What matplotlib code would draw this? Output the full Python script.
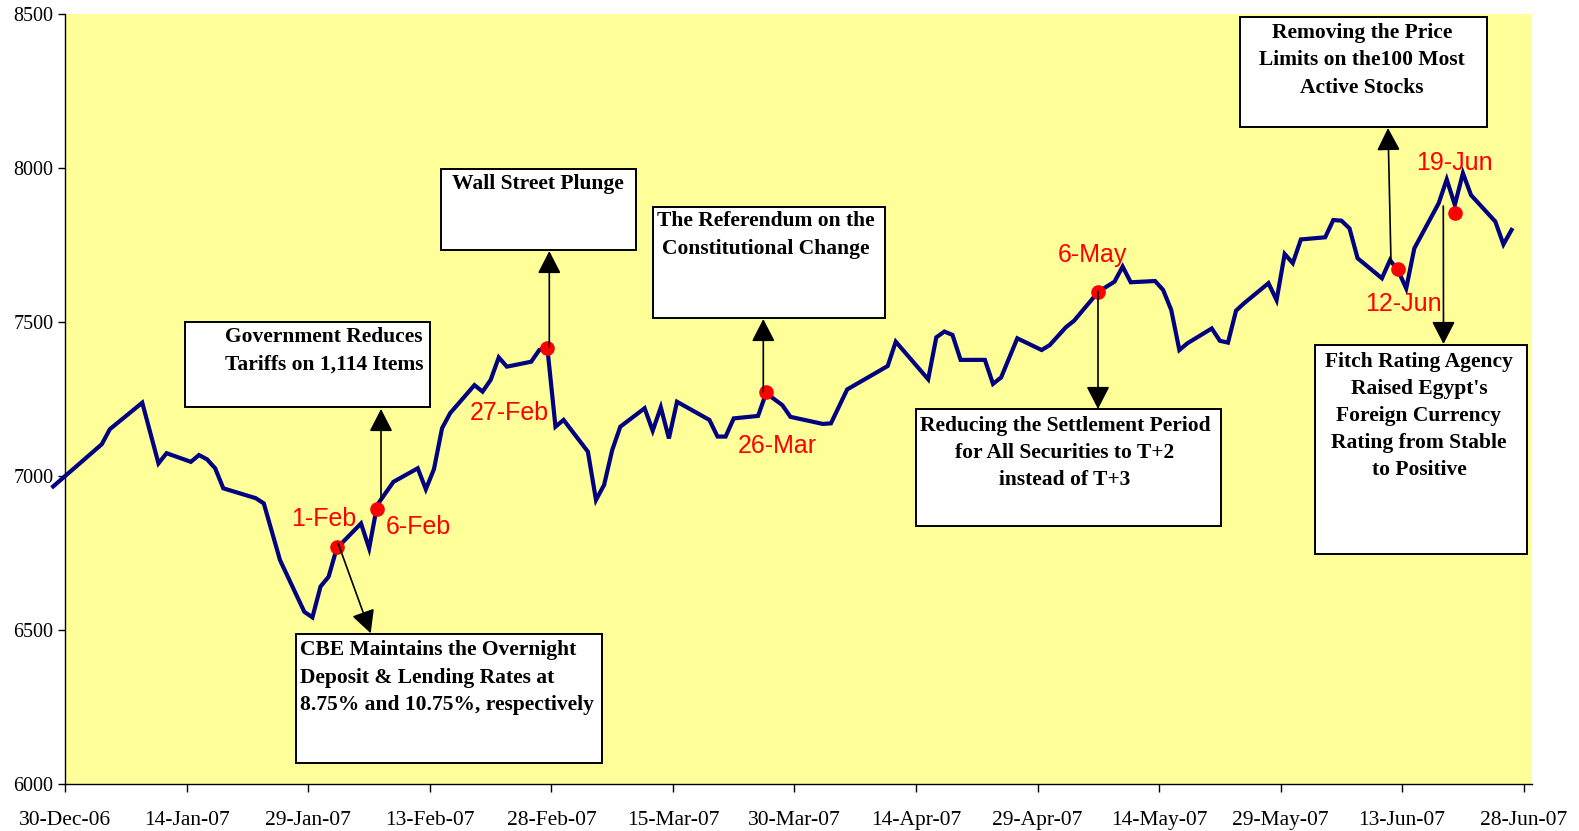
import matplotlib
matplotlib.use("Agg")
import matplotlib.pyplot as plt
import matplotlib.dates as mdates
from matplotlib.patches import Rectangle, FancyArrowPatch

# ---------------- data ----------------
dates = [
    "2006-12-28", "2007-01-03", "2007-01-04", "2007-01-08", "2007-01-10", "2007-01-11",
    "2007-01-14", "2007-01-15", "2007-01-16", "2007-01-17", "2007-01-18", "2007-01-22",
    "2007-01-23", "2007-01-25", "2007-01-28", "2007-01-29", "2007-01-30", "2007-01-31",
    "2007-02-01", "2007-02-04", "2007-02-05", "2007-02-06", "2007-02-08", "2007-02-11",
    "2007-02-12", "2007-02-13", "2007-02-14", "2007-02-15", "2007-02-18", "2007-02-19",
    "2007-02-20", "2007-02-21", "2007-02-22", "2007-02-25", "2007-02-26", "2007-02-27",
    "2007-02-28", "2007-03-01", "2007-03-04", "2007-03-05", "2007-03-06", "2007-03-07",
    "2007-03-08", "2007-03-11", "2007-03-12", "2007-03-13", "2007-03-14", "2007-03-15",
    "2007-03-19", "2007-03-20", "2007-03-21", "2007-03-22", "2007-03-25", "2007-03-26",
    "2007-03-28", "2007-03-29", "2007-04-02", "2007-04-03", "2007-04-05", "2007-04-10",
    "2007-04-11", "2007-04-15", "2007-04-16", "2007-04-17", "2007-04-18", "2007-04-19",
    "2007-04-22", "2007-04-23", "2007-04-24", "2007-04-26", "2007-04-29", "2007-04-30",
    "2007-05-02", "2007-05-03", "2007-05-06", "2007-05-08", "2007-05-09", "2007-05-10",
    "2007-05-13", "2007-05-14", "2007-05-15", "2007-05-16", "2007-05-17", "2007-05-20",
    "2007-05-21", "2007-05-22", "2007-05-23", "2007-05-24", "2007-05-27", "2007-05-28",
    "2007-05-29", "2007-05-30", "2007-05-31", "2007-06-03", "2007-06-04", "2007-06-05",
    "2007-06-06", "2007-06-07", "2007-06-10", "2007-06-11", "2007-06-12", "2007-06-13",
    "2007-06-14", "2007-06-17", "2007-06-18", "2007-06-19", "2007-06-20", "2007-06-21",
    "2007-06-24", "2007-06-25", "2007-06-26",
]
index_values = [
    6967, 7104, 7153, 7239, 7042, 7075,
    7047, 7069, 7055, 7026, 6961, 6929,
    6912, 6728, 6560, 6542, 6642, 6674,
    6766, 6847, 6766, 6907, 6982, 7026,
    6958, 7023, 7156, 7205, 7296, 7275,
    7313, 7386, 7356, 7372, 7410, 7416,
    7161, 7183, 7080, 6923, 6972, 7085,
    7161, 7221, 7148, 7224, 7123, 7242,
    7183, 7129, 7129, 7188, 7196, 7270,
    7231, 7193, 7170, 7172, 7282, 7358,
    7437, 7315, 7451, 7470, 7459, 7378,
    7378, 7300, 7321, 7448, 7410, 7426,
    7484, 7505, 7599, 7632, 7681, 7630,
    7634, 7605, 7540, 7410, 7432, 7480,
    7440, 7434, 7538, 7562, 7627, 7572,
    7722, 7692, 7769, 7776, 7832, 7830,
    7805, 7708, 7643, 7702, 7668, 7610,
    7740, 7886, 7964, 7881, 7984, 7913,
    7827, 7753, 7800,
]

event_dates = ["2007-02-01", "2007-02-06", "2007-02-27", "2007-03-26",
               "2007-05-06", "2007-06-12", "2007-06-19"]
event_values = [6769, 6893, 7416, 7275, 7599, 7673, 7856]
event_labels = ["1-Feb", "6-Feb", "27-Feb", "26-Mar", "6-May", "12-Jun", "19-Jun"]

annotation_texts = [
    "Government Reduces\nTariffs on 1,114 Items",
    "Wall Street Plunge",
    "The Referendum on the\nConstitutional Change",
    "CBE Maintains the Overnight\nDeposit & Lending Rates at\n8.75% and 10.75%, respectively",
    "Reducing the Settlement Period\nfor All Securities to T+2\ninstead of T+3",
    "Removing the Price\nLimits on the100 Most\nActive Stocks",
    "Fitch Rating Agency\nRaised Egypt's\nForeign Currency\nRating from Stable\nto Positive",
]

y_ticks = [6000, 6500, 7000, 7500, 8000, 8500]
x_start = "2006-12-30"
x_tick_step_days = 15
n_x_ticks = 13

# ---------------- layout ----------------
W, H = 1579, 831
DPI = 100
fig = plt.figure(figsize=(W / DPI, H / DPI), dpi=DPI)
fig.patch.set_facecolor("white")


def px(x, y):
    return (x / W, 1 - y / H)


ax = fig.add_axes([65.3 / W, 1 - 784.3 / H, (1531.8 - 65.3) / W, 770 / H])
ax.set_facecolor("#FFFF99")

OFFSET = 0.5  # points centred within their day
x_vals = mdates.datestr2num(dates) + OFFSET
ev_x = mdates.datestr2num(event_dates) + OFFSET

ax.plot(x_vals, index_values, color="#000080", lw=3.0, solid_joinstyle="miter",
        clip_on=False, zorder=3)
ax.plot(ev_x, event_values, "o", color="red", ms=9.5, zorder=4)

x0 = mdates.datestr2num(x_start)
ax.set_xlim(x0, x0 + 181)
ax.set_ylim(6000, 8500)
ticks = [x0 + i * x_tick_step_days for i in range(n_x_ticks)]
ax.set_xticks(ticks)
ax.xaxis.set_major_formatter(mdates.DateFormatter("%-d-%b-%y"))
ax.set_yticks(y_ticks)

for s in ["top", "right"]:
    ax.spines[s].set_visible(False)
for s in ["left", "bottom"]:
    ax.spines[s].set_linewidth(1.0)
    ax.spines[s].set_color("black")

ax.tick_params(axis="x", direction="out", length=6, width=1, pad=13)
ax.tick_params(axis="y", direction="out", length=5, width=1, pad=3.5)
for lab in ax.get_xticklabels():
    lab.set_fontfamily("Liberation Serif")
    lab.set_fontsize(15.5)
for lab in ax.get_yticklabels():
    lab.set_fontfamily("Liberation Serif")
    lab.set_fontsize(14.4)

# red date labels (pixel centres)
label_pos = [(324, 519), (418, 527), (509, 413), (777, 446),
             (1092, 255), (1403, 304), (1454, 163)]
for txt, (lx, ly) in zip(event_labels, label_pos):
    fig.text(*px(lx, ly), txt, color="red", fontsize=18, family="Liberation Sans",
             ha="center", va="center", zorder=6)

# annotation boxes: (left, top, right, bottom) in pixels
boxes = [
    (185, 322, 430, 407),
    (440.7, 169.3, 636, 250),
    (652.7, 206.7, 885, 317.7),
    (295.7, 633.7, 601.7, 763),
    (916, 409.3, 1220.5, 525.7),
    (1240, 17, 1487, 127),
    (1315, 345, 1526.7, 553.5),
]
text_pos = [  # (x, y, ha) of text block centre
    (324, 350.5, "center"),
    (538, 184.3, "center"),
    (766, 235, "center"),
    (300, 677.7, "left"),
    (1065, 452.7, "center"),
    (1362, 60.4, "center"),
    (1419, 416, "center"),
]
for (l, t, r, b), (tx, ty, ha), txt in zip(boxes, text_pos, annotation_texts):
    x_, y_ = px(l, b)
    rect = Rectangle((x_, y_), (r - l) / W, (b - t) / H, transform=fig.transFigure,
                     facecolor="white", edgecolor="black", lw=1.4, zorder=5)
    fig.add_artist(rect)
    fig.text(*px(tx, ty), txt, ha=ha, va="center", multialignment=ha,
             family="Liberation Serif", weight="bold", fontsize=15.5,
             linespacing=1.48, zorder=6)

# arrows: start -> tip in pixels
arrows = [
    ((338, 543), (370.7, 633.3)),
    ((381, 500), (381, 409)),
    ((549.3, 347), (549.3, 251)),
    ((763.3, 392), (763.3, 319)),
    ((1098, 291.7), (1098, 409)),
    ((1391, 262), (1388, 128)),
    ((1443.3, 206), (1443.5, 344)),
]
for (sx, sy), (ex, ey) in arrows:
    fig.add_artist(FancyArrowPatch(
        px(sx, sy), px(ex, ey), transform=fig.transFigure,
        arrowstyle="-|>,head_length=0.7,head_width=0.36", mutation_scale=20,
        color="black", lw=1.2, shrinkA=0, shrinkB=0, zorder=5))

fig.savefig("out.png", dpi=DPI)
